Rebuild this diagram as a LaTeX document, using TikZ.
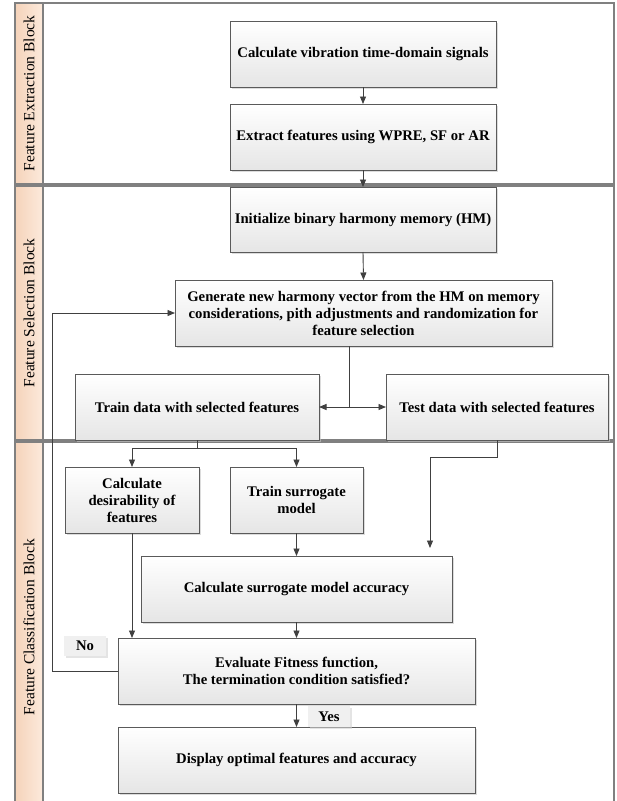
\documentclass[tikz,border=0pt]{standalone}
\usepackage{fontspec}
\setmainfont{Liberation Serif}
\usetikzlibrary{arrows.meta,shadows,calc}
\definecolor{stripL}{RGB}{245,211,186}
\definecolor{stripR}{RGB}{252,234,220}
\definecolor{blockline}{RGB}{128,128,128}
\definecolor{boxline}{RGB}{90,90,90}
\definecolor{arrowc}{RGB}{64,64,64}
\tikzset{
  blockframe/.style={draw=blockline, line width=1.3pt},
  stripbox/.style={draw=blockline, line width=1.1pt, left color=stripL, right color=stripR},
  striplabel/.style={rotate=90, font=\fontsize{15.5}{18}\selectfont, inner sep=0pt},
  procbox/.style={draw=boxline, line width=0.9pt, top color=white, bottom color=gray!20,
    minimum width=#1, inner sep=0pt, outer sep=0pt, align=center, minimum height=66pt,
    font=\bfseries\fontsize{14.7}{17}\selectfont,
    drop shadow={shadow xshift=2pt, shadow yshift=-2pt, fill=gray!45, opacity=0.6}},
  tagbox/.style={fill=gray!12, inner sep=0pt, outer sep=0pt, minimum width=42pt, minimum height=20pt,
    font=\bfseries\fontsize{14.7}{17}\selectfont,
    drop shadow={shadow xshift=1.5pt, shadow yshift=-1.5pt, fill=gray!35, opacity=0.6}},
  conn/.style={draw=arrowc, line width=0.9pt},
  arr/.style={conn, -{Triangle[length=7.5pt,width=6pt]}},
}
\begin{document}
\begin{tikzpicture}[x=1pt,y=-1pt]
\clip (0,0) rectangle (617,801);
\fill[white] (0,0) rectangle (617,801);
% blocks
\draw[blockframe] (15,3) rectangle (614,184);
\draw[blockframe] (15,186) rectangle (614,440);
\draw[blockframe] (15,442) rectangle (614,815);
\draw[stripbox] (15,3) rectangle (43,184);
\draw[stripbox] (15,186) rectangle (43,440);
\draw[stripbox] (15,442) rectangle (43,815);
\node[striplabel] (l1) at (29,93.5) {Feature Extraction Block};
\node[striplabel] (l2) at (29,313) {Feature Selection Block};
\node[striplabel] (l3) at (29,627) {Feature Classification Block};
% process boxes
\node[procbox=266pt] (b1) at (363,54) {Calculate vibration time-domain signals};
\node[procbox=266pt] (b2) at (363,137) {Extract features using WPRE, SF or AR};
\node[procbox=266pt, minimum height=65pt] (b3) at (363,219.5) {Initialize binary harmony memory (HM)};
\node[procbox=377pt] (b4) at (363.5,313) {Generate new harmony vector from the HM on memory\\considerations, pith adjustments and randomization for\\feature selection};
\node[procbox=244pt] (b5) at (197,407) {Train data with selected features};
\node[procbox=222pt] (b6) at (497,407) {Test data with selected features};
\node[procbox=134pt] (b7) at (132,500) {Calculate\\desirability of\\features};
\node[procbox=133pt] (b8) at (296.5,500) {Train surrogate\\model};
\node[procbox=311pt] (b9) at (296.5,589) {Calculate surrogate model accuracy};
\node[procbox=357pt] (b10) at (296.5,671) {Evaluate Fitness function,\\The termination condition satisfied?};
\node[procbox=357pt] (b11) at (296.5,760) {Display optimal features and accuracy};
\node[tagbox] (no) at (85,646) {No};
\node[tagbox, minimum height=21pt] (yes) at (329,716.5) {Yes};
% connectors
\draw[arr] (b1.south) -- (b2.north);
\draw[arr] (b2.south) -- (b3.north);
\draw[arr] (b3.south) -- (b4.north);
\coordinate (s1) at (349,407);
\draw[conn] (s1 |- b4.south) -- (s1);
\draw[arr] (s1) -- (b5.east);
\draw[arr] (s1) -- (b6.west);
\coordinate (s2) at (197,448);
\draw[conn] (b5.south) -- (s2);
\draw[arr] (s2) -| (b7.north);
\draw[arr] (s2) -| (b8.north);
\coordinate (s3) at (430,457);
\coordinate (e3) at (430,548);
\draw[arr] (b6.south) |- (s3) -- (e3);
\draw[arr] (b8.south) -- (b9.north);
\draw[arr] (b7.south) -- (b7.south |- b10.north);
\draw[arr] (b9.south) -- (b10.north);
\draw[arr] (b10.south) -- (b11.north);
\coordinate (fb) at (52.5,0);
\draw[arr] (b10.west) -- (fb |- b10.west) -- (fb |- b4.west) -- (b4.west);
\end{tikzpicture}
\end{document}
